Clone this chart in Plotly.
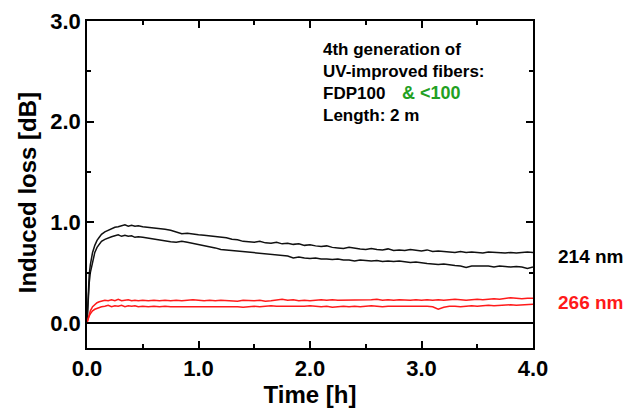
import plotly.graph_objects as go

# ---- data (time in hours, induced loss in dB) ----
time_early = [0, 0.01, 0.02, 0.03, 0.05, 0.07, 0.09, 0.11, 0.13, 0.16, 0.19,
              0.22, 0.25, 0.28, 0.31, 0.34, 0.37, 0.40, 0.43, 0.46]
time_late = [0.50, 0.55, 0.60, 0.65, 0.70, 0.75, 0.80, 0.85, 0.90, 0.95,
             1.00, 1.05, 1.10, 1.15, 1.20, 1.25, 1.30, 1.35, 1.40, 1.45,
             1.50, 1.55, 1.60, 1.65, 1.70, 1.75, 1.80, 1.85, 1.90, 1.95,
             2.00, 2.05, 2.10, 2.15, 2.20, 2.25, 2.30, 2.35, 2.40, 2.45,
             2.50, 2.55, 2.60, 2.65, 2.70, 2.75, 2.80, 2.85, 2.90, 2.95,
             3.00, 3.05, 3.10, 3.15, 3.20, 3.25, 3.30, 3.35, 3.40, 3.45,
             3.50, 3.55, 3.60, 3.65, 3.70, 3.75, 3.80, 3.85, 3.90, 3.95,
             4.00]
time_h = time_early + time_late

loss_214_a = [0, 0.30, 0.48, 0.58, 0.70, 0.77, 0.82, 0.85, 0.88, 0.905, 0.92,
              0.935, 0.95, 0.955, 0.965, 0.975, 0.96, 0.97, 0.96, 0.965,
              0.955, 0.95, 0.945, 0.94, 0.93, 0.92, 0.90, 0.885, 0.89, 0.88,
              0.875, 0.87, 0.865, 0.86, 0.85, 0.845, 0.83, 0.825, 0.81, 0.805,
              0.80, 0.81, 0.795, 0.79, 0.80, 0.785, 0.79, 0.78, 0.785, 0.77,
              0.775, 0.765, 0.76, 0.765, 0.75, 0.745, 0.74, 0.75, 0.74, 0.735,
              0.73, 0.74, 0.73, 0.725, 0.735, 0.72, 0.725, 0.72, 0.73, 0.72,
              0.715, 0.725, 0.71, 0.715, 0.71, 0.705, 0.70, 0.71, 0.70, 0.705,
              0.70, 0.695, 0.705, 0.70, 0.70, 0.695, 0.70, 0.695, 0.70, 0.705,
              0.70]
loss_214_b = [0, 0.24, 0.40, 0.50, 0.62, 0.70, 0.75, 0.78, 0.81, 0.83, 0.845,
              0.855, 0.865, 0.875, 0.86, 0.87, 0.86, 0.865, 0.85, 0.855,
              0.85, 0.84, 0.835, 0.825, 0.815, 0.805, 0.80, 0.81, 0.80, 0.79,
              0.78, 0.77, 0.755, 0.745, 0.73, 0.725, 0.72, 0.715, 0.71, 0.705,
              0.70, 0.695, 0.69, 0.685, 0.68, 0.67, 0.665, 0.645, 0.655, 0.645,
              0.64, 0.645, 0.635, 0.635, 0.63, 0.635, 0.625, 0.625, 0.615, 0.625,
              0.62, 0.615, 0.62, 0.61, 0.615, 0.61, 0.615, 0.605, 0.60, 0.605,
              0.595, 0.59, 0.585, 0.58, 0.585, 0.575, 0.57, 0.565, 0.55, 0.565,
              0.565, 0.56, 0.565, 0.555, 0.565, 0.56, 0.555, 0.56, 0.555, 0.54,
              0.555]
loss_266_a = [0, 0.05, 0.09, 0.12, 0.16, 0.18, 0.20, 0.21, 0.215, 0.225, 0.22,
              0.23, 0.22, 0.235, 0.22, 0.225, 0.23, 0.22, 0.225, 0.22,
              0.225, 0.22, 0.225, 0.22, 0.225, 0.22, 0.225, 0.22, 0.225, 0.23,
              0.225, 0.22, 0.225, 0.22, 0.225, 0.22, 0.22, 0.215, 0.225, 0.22,
              0.22, 0.225, 0.215, 0.22, 0.225, 0.235, 0.225, 0.23, 0.22, 0.225,
              0.22, 0.225, 0.23, 0.225, 0.23, 0.225, 0.225, 0.23, 0.225, 0.23,
              0.225, 0.23, 0.235, 0.225, 0.23, 0.225, 0.23, 0.225, 0.225, 0.23,
              0.225, 0.23, 0.225, 0.23, 0.225, 0.23, 0.235, 0.23, 0.225, 0.23,
              0.235, 0.23, 0.235, 0.24, 0.235, 0.245, 0.25, 0.245, 0.24, 0.245,
              0.245]
loss_266_b = [0, 0.04, 0.07, 0.09, 0.12, 0.135, 0.145, 0.15, 0.16, 0.165, 0.175,
              0.16, 0.17, 0.165, 0.175, 0.16, 0.17, 0.165, 0.17, 0.16,
              0.165, 0.16, 0.165, 0.16, 0.165, 0.16, 0.16, 0.165, 0.16, 0.165,
              0.16, 0.16, 0.165, 0.16, 0.165, 0.16, 0.165, 0.16, 0.155, 0.16,
              0.165, 0.16, 0.165, 0.17, 0.165, 0.165, 0.16, 0.165, 0.16, 0.165,
              0.17, 0.165, 0.16, 0.165, 0.155, 0.16, 0.165, 0.16, 0.165, 0.16,
              0.165, 0.17, 0.165, 0.16, 0.165, 0.165, 0.17, 0.165, 0.17, 0.165,
              0.17, 0.165, 0.16, 0.135, 0.155, 0.165, 0.165, 0.16, 0.165, 0.17,
              0.165, 0.17, 0.175, 0.17, 0.175, 0.175, 0.18, 0.175, 0.18, 0.185,
              0.185]

x_ticks = [0, 1, 2, 3, 4]
y_ticks = [0, 1, 2, 3]

BLACK = "#111111"
RED = "#ff1a1a"
GREEN = "#22a022"
FONT = "Liberation Sans, Arial, sans-serif"

fig = go.Figure()
for ys, col in [(loss_214_a, BLACK), (loss_214_b, BLACK),
                (loss_266_a, RED), (loss_266_b, RED)]:
    fig.add_trace(go.Scatter(x=time_h, y=ys, mode="lines",
                             line=dict(color=col, width=1.5),
                             showlegend=False, hoverinfo="skip"))

axis_common = dict(
    showline=True, linecolor="black", linewidth=1.5, mirror="ticks",
    ticks="inside", ticklen=7, tickwidth=1.5, tickcolor="black",
    showgrid=False, tickformat=".1f",
    tickfont=dict(family=FONT, size=22, color="black", weight="bold"),
)

fig.update_xaxes(range=[0, 4], tickvals=x_ticks, zeroline=False,
                 minor=dict(dtick=0.5, tick0=0, ticks="inside", ticklen=4,
                            tickwidth=1.5, tickcolor="black"),
                 title=dict(text="Time [h]", standoff=4,
                            font=dict(family=FONT, size=24, color="black", weight="bold")),
                 **axis_common)
fig.update_yaxes(range=[-0.25, 3.0], tickvals=y_ticks,
                 zeroline=True, zerolinecolor="black", zerolinewidth=1.5,
                 minor=dict(dtick=0.5, tick0=0, ticks="inside", ticklen=4,
                            tickwidth=1.5, tickcolor="black"),
                 **axis_common)

# y-axis title (placed as rotated text, centred like the reference)
fig.add_annotation(x=-0.134, y=1.29, xref="paper", yref="y",
                   text="Induced loss [dB]", textangle=-90, showarrow=False,
                   xanchor="center", yanchor="middle",
                   font=dict(family=FONT, size=24, color="black", weight="bold"))

ann_font = dict(family=FONT, size=17, color="black", weight="bold")
text_lines = [("4th generation of", 2.72), ("UV-improved fibers:", 2.50),
              ("FDP100", 2.28), ("Length: 2 m", 2.06)]
for txt, yv in text_lines:
    fig.add_annotation(x=2.10, y=yv, xref="x", yref="y", text=txt,
                       showarrow=False, xanchor="left", yanchor="middle",
                       font=ann_font)
fig.add_annotation(x=2.81, y=2.28, xref="x", yref="y", text="&amp; &lt;100",
                   showarrow=False, xanchor="left", yanchor="middle",
                   font=dict(family=FONT, size=18, color=GREEN, weight="bold"))

fig.add_annotation(x=1.052, y=0.655, xref="paper", yref="y", text="214 nm",
                   showarrow=False, xanchor="left", yanchor="middle",
                   font=dict(family=FONT, size=19, color="black", weight="bold"))
fig.add_annotation(x=1.052, y=0.20, xref="paper", yref="y", text="266 nm",
                   showarrow=False, xanchor="left", yanchor="middle",
                   font=dict(family=FONT, size=19, color=RED, weight="bold"))

fig.update_layout(
    width=631, height=409,
    margin=dict(l=87, r=98, t=21, b=61, autoexpand=False),
    paper_bgcolor="white", plot_bgcolor="white",
    font=dict(family=FONT, color="black"),
)

fig.write_html("out.html")
